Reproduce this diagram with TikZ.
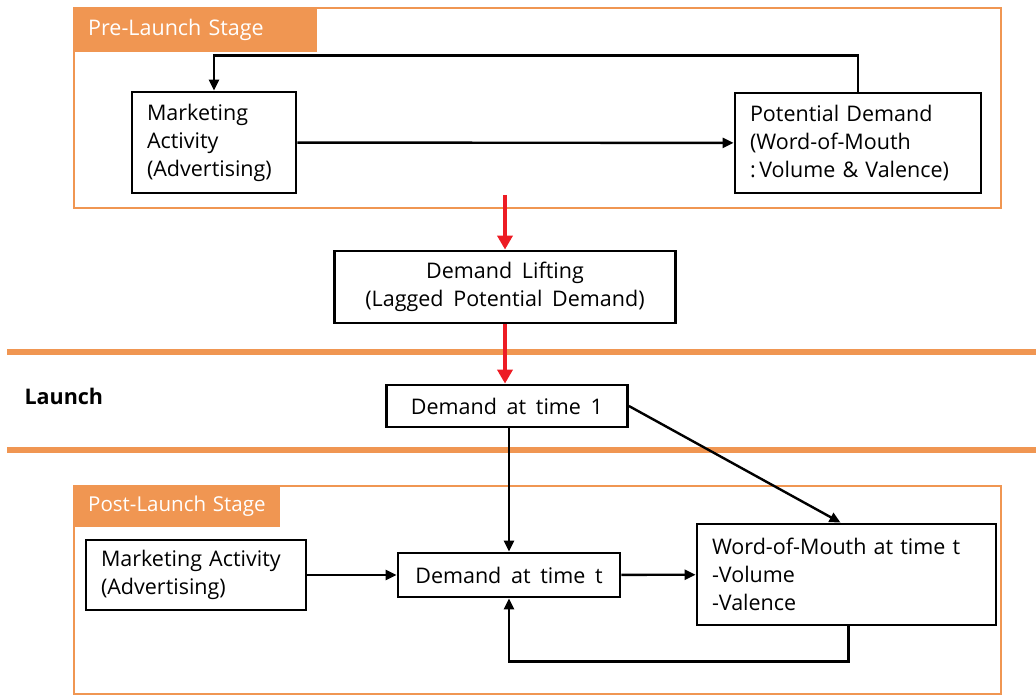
\documentclass[tikz,border=0pt]{standalone}
\usepackage{fontspec}
\setmainfont{Open Sans}
\usetikzlibrary{arrows.meta,positioning}
\definecolor{stageorange}{RGB}{240,150,82}
\definecolor{liftred}{RGB}{237,28,36}
\newcommand\diagfont{\fontsize{21.5}{28}\selectfont\spaceskip 0.45em plus 0.1em\relax}

\begin{document}
\begin{tikzpicture}[x=1pt,y=-1pt,
  font=\diagfont,
  box/.style={draw,line width=2.8pt,inner xsep=15pt,inner ysep=0pt},
  lbox/.style={box,align=left},
  stage/.style={draw=stageorange,line width=2.2pt,anchor=north west,inner sep=0pt},
  tag/.style={fill=stageorange,text=white,anchor=north west,inner sep=0pt,align=left},
  arr/.style={line width=2.4pt,-{Triangle[length=11pt,width=10pt]}},
  lift/.style={line width=4.5pt,draw=liftred,-{Triangle[length=14pt,width=15pt]}},
  sep/.style={line width=5.5pt,draw=stageorange}]
  \useasboundingbox (0,0) rectangle (1036,695);
  % stages
  \node[stage,minimum width=927pt,minimum height=200pt] (pre) at (73,7) {};
  \node[tag,minimum height=45pt,text width=244pt] (pretag) at (73,7) {\hspace*{15pt}Pre-Launch Stage};
  \node[stage,minimum width=927pt,minimum height=208pt] (post) at (73,485) {};
  \node[tag,minimum height=42pt,text width=207pt,font=\diagfont\fontsize{20.5}{28}\selectfont] (posttag) at (73,485) {\hspace*{15pt}Post-Launch Stage};
  \draw[sep] (7,352) -- (1036,352);
  \draw[sep] (7,450) -- (1036,450);
  \node[anchor=west,font=\diagfont\bfseries] (launch) at (21,396) {Launch};

  % pre-launch
  \node[lbox,text width=134pt,minimum height=101pt] (ma1) at (214,142.5) {Marketing\\Activity\\(Advertising)};
  \node[lbox,text width=216pt,minimum height=100pt] (pd) at (858,143) {Potential Demand\\(Word-of-Mouth\\:\,Volume \& Valence)};
  \draw[arr] (ma1) -- (pd);
  \draw[arr] (pd.north) -- ++(0,-36) -| (ma1.north);

  % launch
  \coordinate (liftstart) at (505,195);
  \node[box,align=center,minimum width=341pt,minimum height=72pt] (dl) at (505,287) {Demand Lifting\\(Lagged Potential Demand)};
  \node[box,minimum width=241pt,minimum height=42pt] (d1) at (507,406) {Demand at time 1};
  \draw[lift] (liftstart) -- (liftstart |- dl.north);
  \draw[lift] (dl.south) -- (dl.south |- d1.north);

  % post-launch
  \node[lbox,text width=190pt,minimum height=70pt] (ma2) at (196,575) {Marketing Activity\\(Advertising)};
  \node[box,minimum width=222pt,minimum height=44pt] (dt) at (509,575) {Demand at time t};
  \node[lbox,text width=269pt,minimum height=101pt] (wom) at (846.5,574.5) {Word-of-Mouth at time t\\-Volume\\-Valence};
  \draw[arr] (d1.south -| dt.north) -- (dt.north);
  \draw[arr] (d1.east) -- ([xshift=-6pt]wom.north);
  \draw[arr] (ma2) -- (dt);
  \draw[arr] (dt) -- (wom);
  \draw[arr] ([xshift=2pt]wom.south) -- ++(0,35) -| (dt.south);
\end{tikzpicture}
\end{document}
